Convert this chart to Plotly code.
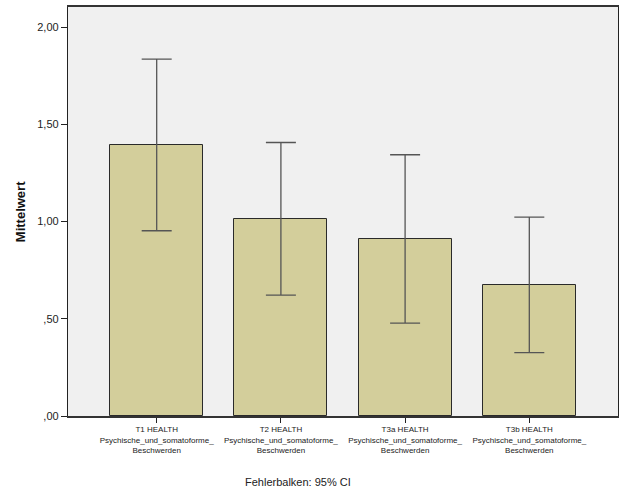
import plotly.graph_objects as go

# Data -------------------------------------------------------------------
categories = [
    "T1 HEALTH<br>Psychische_und_somatoforme_<br>Beschwerden",
    "T2 HEALTH<br>Psychische_und_somatoforme_<br>Beschwerden",
    "T3a HEALTH<br>Psychische_und_somatoforme_<br>Beschwerden",
    "T3b HEALTH<br>Psychische_und_somatoforme_<br>Beschwerden",
]
means = [1.395, 1.014, 0.912, 0.676]
ci_upper = [1.836, 1.407, 1.344, 1.023]
ci_lower = [0.953, 0.622, 0.478, 0.326]

y_tickvals = [0, 0.5, 1.0, 1.5, 2.0]
y_ticktext = [",00", ",50", "1,00", "1,50", "2,00"]

x_pos = list(range(len(categories)))
err_plus = [u - m for u, m in zip(ci_upper, means)]
err_minus = [m - l for m, l in zip(means, ci_lower)]

# Figure -----------------------------------------------------------------
fig = go.Figure()

fig.add_trace(go.Bar(
    x=x_pos,
    y=means,
    width=0.75,
    marker=dict(color='#d3ce9b', line=dict(color='#2a2a2a', width=1)),
    error_y=dict(
        type='data',
        symmetric=False,
        array=err_plus,
        arrayminus=err_minus,
        color='#555555',
        thickness=1.3,
        width=15,
    ),
    showlegend=False,
))

fig.update_layout(
    width=626,
    height=501,
    margin=dict(l=68, r=8, t=5, b=85),
    paper_bgcolor='white',
    plot_bgcolor='#f0f0f0',
    font=dict(family='Liberation Sans, Arial, sans-serif', color='#222222'),
    bargap=0,
    xaxis=dict(
        range=[-0.714, 3.714],
        tickmode='array',
        tickvals=x_pos,
        ticktext=categories,
        tickfont=dict(size=8, color='#222222'),
        ticks='outside',
        ticklen=5,
        tickcolor='#222222',
        showgrid=False,
        zeroline=False,
        showline=True,
        linecolor='#333333',
        linewidth=1.5,
        mirror=True,
    ),
    yaxis=dict(
        range=[0, 2.104],
        tickmode='array',
        tickvals=y_tickvals,
        ticktext=y_ticktext,
        tickfont=dict(size=11, color='#222222'),
        ticks='outside',
        ticklen=6,
        tickcolor='#222222',
        showgrid=False,
        zeroline=False,
        showline=True,
        linecolor='#222222',
        linewidth=1.3,
        mirror=True,
    ),
    annotations=[
        dict(
            text='<b>Mittelwert</b>',
            textangle=-90,
            xref='paper', yref='paper',
            x=-0.086, y=0.5,
            xanchor='center', yanchor='middle',
            showarrow=False,
            font=dict(size=13, color='#111111'),
        ),
        dict(
            text='Fehlerbalken: 95% CI',
            xref='paper', yref='paper',
            x=0.418, y=-0.161,
            xanchor='center', yanchor='middle',
            showarrow=False,
            font=dict(size=11, color='#222222'),
        ),
    ],
)

# remove the default page margin so the chart sits at the window origin
fig.write_html("out.html", config={'displayModeBar': False},
               post_script="document.body.style.margin='0';")
